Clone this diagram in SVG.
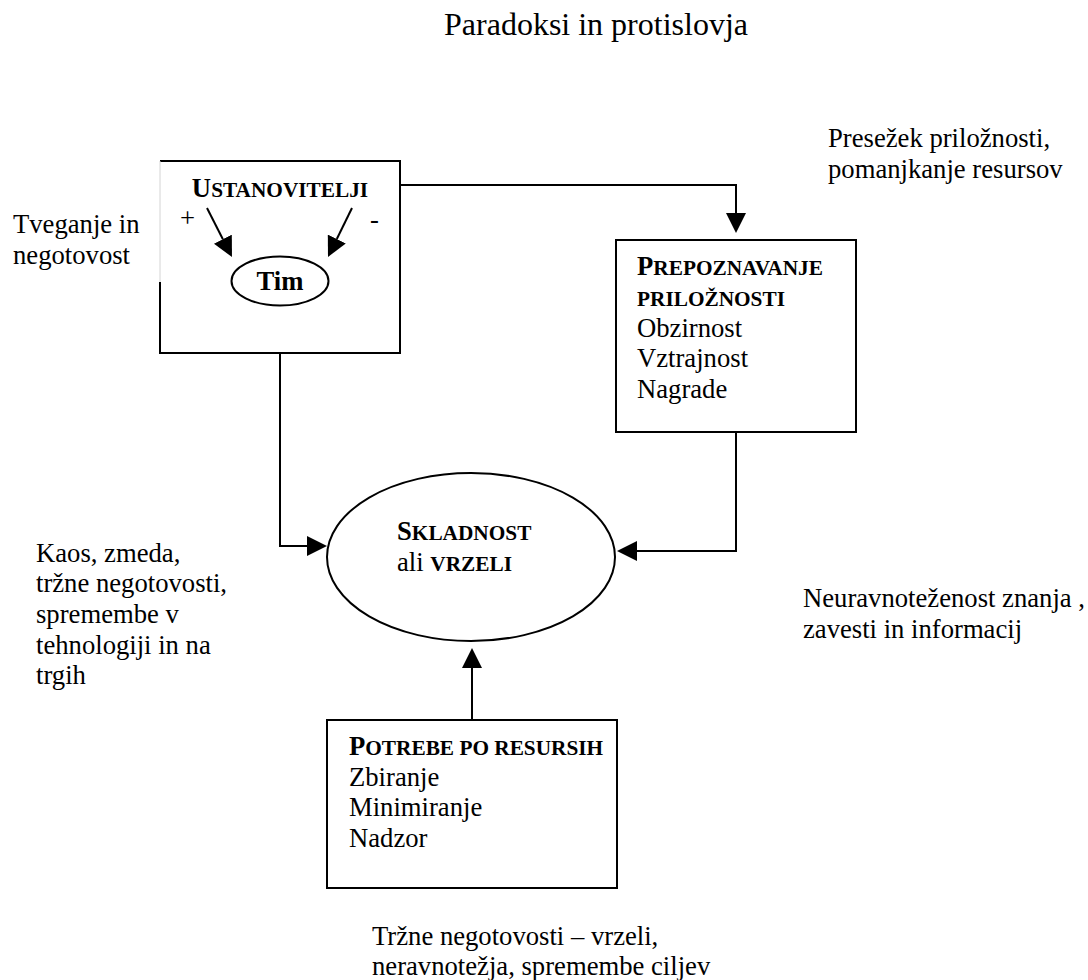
<svg xmlns="http://www.w3.org/2000/svg" width="1088" height="980" viewBox="0 0 1088 980">
  <style>
    text { font-family: "Liberation Serif", "Times New Roman", "DejaVu Serif", serif; fill: #000; font-size: 26.67px; }
    .title { font-size: 32px; }
    .b { font-weight: bold; }
    .sc { font-size: 21.3px; }
    .box { fill: #fff; stroke: #000; stroke-width: 2; }
    .conn { fill: none; stroke: #000; stroke-width: 2; }
  </style>
  <defs>
    <marker id="arrow" markerUnits="userSpaceOnUse" markerWidth="20" markerHeight="20" refX="0" refY="10" orient="auto">
      <path d="M0,0 L20,10 L0,20 z" fill="#000"/>
    </marker>
  </defs>
  <rect width="1088" height="980" fill="#fff"/>

  <text class="title" x="596" y="35" text-anchor="middle">Paradoksi in protislovja</text>

  <g id="label-tveganje">
    <text x="13" y="233">Tveganje in</text>
    <text x="13" y="264">negotovost</text>
  </g>
  <g id="label-presezek">
    <text x="828" y="147">Presežek priložnosti,</text>
    <text x="828" y="178">pomanjkanje resursov</text>
  </g>
  <g id="label-kaos">
    <text x="36" y="562">Kaos, zmeda,</text>
    <text x="36" y="592">tržne negotovosti,</text>
    <text x="36" y="623">spremembe v</text>
    <text x="36" y="654">tehnologiji in na</text>
    <text x="36" y="684">trgih</text>
  </g>
  <g id="label-neuravnotezenost">
    <text x="803" y="607">Neuravnoteženost znanja ,</text>
    <text x="803" y="638">zavesti in informacij</text>
  </g>
  <g id="label-trzne">
    <text x="372" y="945">Tržne negotovosti – vrzeli,</text>
    <text x="372" y="975">neravnotežja, spremembe ciljev</text>
  </g>

  <g id="node-ustanovitelji">
    <rect x="160" y="161" width="240" height="192" fill="#fff" stroke="none"/>
    <path class="conn" d="M160,161 H400 V353 H160 V282"/>
    <line x1="160" y1="161" x2="160" y2="282" stroke="#d4d4d4" stroke-width="1"/>
    <text class="b" x="280" y="197" text-anchor="middle">U<tspan class="sc">STANOVITELJI</tspan></text>
    <text x="180" y="227">+</text>
    <text x="370" y="228">-</text>
  </g>

  <g id="node-tim">
    <ellipse cx="280" cy="281" rx="48.5" ry="24.5" fill="#fff" stroke="#000" stroke-width="2"/>
    <text class="b" x="280" y="290" text-anchor="middle">Tim</text>
  </g>

  <g id="node-prepoznavanje">
    <rect class="box" x="616" y="240" width="240" height="192"/>
    <text class="b" x="637" y="275">P<tspan class="sc">REPOZNAVANJE</tspan></text>
    <text class="b sc" x="637" y="306">PRILOŽNOSTI</text>
    <text x="637" y="337">Obzirnost</text>
    <text x="637" y="367">Vztrajnost</text>
    <text x="637" y="398">Nagrade</text>
  </g>

  <g id="node-skladnost">
    <ellipse cx="471" cy="557" rx="144" ry="84" fill="#fff" stroke="#000" stroke-width="2"/>
    <text class="b" x="397" y="540">S<tspan class="sc">KLADNOST</tspan></text>
    <text x="397" y="571">ali <tspan class="b sc">VRZELI</tspan></text>
  </g>

  <g id="node-potrebe">
    <rect class="box" x="327" y="720" width="290" height="168"/>
    <text class="b" x="349" y="755">P<tspan class="sc">OTREBE PO RESURSIH</tspan></text>
    <text x="349" y="786">Zbiranje</text>
    <text x="349" y="816">Minimiranje</text>
    <text x="349" y="847">Nadzor</text>
  </g>

  <g id="connectors">
    <path class="conn" d="M400,185 H736 V213" marker-end="url(#arrow)"/>
    <path class="conn" d="M280,353 V546 H307" marker-end="url(#arrow)"/>
    <path class="conn" d="M736,432 V551 H637" marker-end="url(#arrow)"/>
    <path class="conn" d="M472,720 V668" marker-end="url(#arrow)"/>
    <path class="conn" d="M207,208 L222.9,239.2" marker-end="url(#arrow)"/>
    <path class="conn" d="M352,208 L336.8,239" marker-end="url(#arrow)"/>
  </g>
</svg>
